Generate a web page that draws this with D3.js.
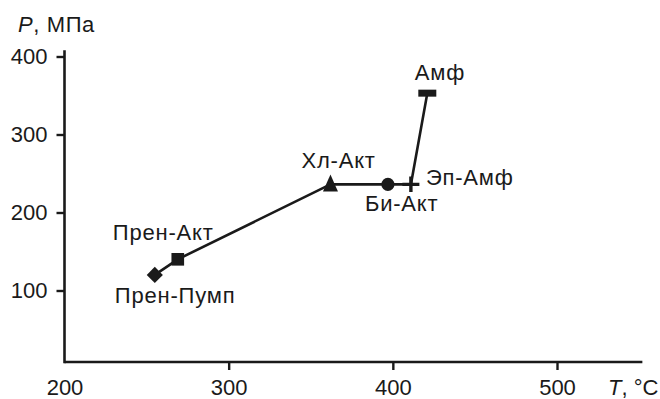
<!DOCTYPE html>
<html><head><meta charset="utf-8">
<script src="https://cdn.jsdelivr.net/npm/d3@7"></script>
<style>
html,body{margin:0;padding:0;background:#fff;}
text{font-family:"Liberation Sans",Arial,sans-serif;fill:#1a1a1a;}
</style></head>
<body><svg id="c" width="660" height="399"></svg>
<script>
const names = ["Прен-Пумп","Прен-Акт","Хл-Акт","Би-Акт","Эп-Амф","Амф"];
const tempC = [255, 269, 362, 397, 411, 421];
const pressMPa = [120, 140, 236, 236, 236, 353];
const markers = ["diamond","square","triangle","circle","plus","bar"];
const xTicks = [200, 300, 400, 500];
const yTicks = [100, 200, 300, 400];
const xLimits = [200, 552];
const yLimits = [8.3, 408];

const ink = "#1a1a1a";
const fs = 22;
const svg = d3.select("#c");
const x = d3.scaleLinear().domain([200, 500]).range([64.5, 557]);
const y = d3.scaleLinear().domain([100, 400]).range([290.5, 56.5]);

// axis lines
svg.append("line").attr("x1", x(xLimits[0])).attr("x2", x(xLimits[1]))
  .attr("y1", y(yLimits[0])).attr("y2", y(yLimits[0]))
  .attr("stroke", ink).attr("stroke-width", 2.6);
svg.append("line").attr("x1", x(xLimits[0])).attr("x2", x(xLimits[0]))
  .attr("y1", y(yLimits[0]) + 1.3).attr("y2", y(yLimits[1]))
  .attr("stroke", ink).attr("stroke-width", 2.6);

const gx = svg.append("g").attr("transform", `translate(0,${y(yLimits[0])})`)
  .call(d3.axisBottom(x).tickValues(xTicks).tickSize(8).tickPadding(9.5).tickFormat(d3.format("d")));
gx.select(".domain").remove();
gx.selectAll(".tick line").attr("stroke", ink).attr("stroke-width", 2.4)
  .filter(d => d === 200).remove();
gx.selectAll(".tick text").attr("font-size", fs).attr("fill", ink)
  .style("font-family", '"Liberation Sans",Arial,sans-serif');

const gy = svg.append("g").attr("transform", `translate(${x(xLimits[0])},0)`)
  .call(d3.axisLeft(y).tickValues(yTicks).tickSize(8).tickPadding(9).tickFormat(d3.format("d")));
gy.select(".domain").remove();
gy.selectAll(".tick line").attr("stroke", ink).attr("stroke-width", 2.4);
gy.selectAll(".tick text").attr("font-size", fs).attr("fill", ink)
  .style("font-family", '"Liberation Sans",Arial,sans-serif');

// axis titles
const ty = svg.append("text").attr("x", 18).attr("y", 32).attr("font-size", fs).attr("letter-spacing", 0.6);
ty.append("tspan").attr("font-style", "italic").text("P");
ty.append("tspan").text(", МПа");
const tx = svg.append("text").attr("x", 608).attr("y", 395).attr("font-size", fs);
tx.append("tspan").attr("font-style", "italic").text("T");
tx.append("tspan").text(", °C");

// connecting line
const pts = tempC.map((t, i) => [x(t), y(pressMPa[i])]);
svg.append("path").attr("d", d3.line()(pts)).attr("fill", "none")
  .attr("stroke", ink).attr("stroke-width", 2.6).attr("stroke-linejoin", "round");

// markers
pts.forEach((p, i) => {
  const g = svg.append("g").attr("transform", `translate(${p[0]},${p[1]})`);
  const m = markers[i];
  if (m === "diamond") {
    g.append("path").attr("d", d3.symbol(d3.symbolSquare, 130)()).attr("transform", "rotate(45)").attr("fill", ink);
  } else if (m === "square") {
    g.append("path").attr("d", d3.symbol(d3.symbolSquare, 160)()).attr("fill", ink);
  } else if (m === "triangle") {
    g.append("path").attr("d", "M0,-10L7.5,7L-7.5,7Z").attr("fill", ink);
  } else if (m === "circle") {
    g.append("path").attr("d", d3.symbol(d3.symbolCircle, 135)()).attr("fill", ink);
  } else if (m === "plus") {
    g.append("path").attr("d", "M-8.5,0H8.5M0,-8V7.5").attr("stroke", ink).attr("stroke-width", 3.4);
  } else if (m === "bar") {
    g.append("rect").attr("x", -9).attr("y", -3.5).attr("width", 18).attr("height", 7).attr("fill", ink);
  }
});

// point labels
const labelPos = [
  {dx: -40, dy: 28},   // Прен-Пумп
  {dx: -65, dy: -19},  // Прен-Акт
  {dx: -29, dy: -16},  // Хл-Акт
  {dx: -23, dy: 27},   // Би-Акт
  {dx: 15, dy: 1},     // Эп-Амф
  {dx: -12.5, dy: -13} // Амф
];
names.forEach((n, i) => {
  svg.append("text").attr("x", pts[i][0] + labelPos[i].dx).attr("y", pts[i][1] + labelPos[i].dy)
    .attr("font-size", fs).attr("letter-spacing", 0.8).text(n);
});
</script></body></html>
